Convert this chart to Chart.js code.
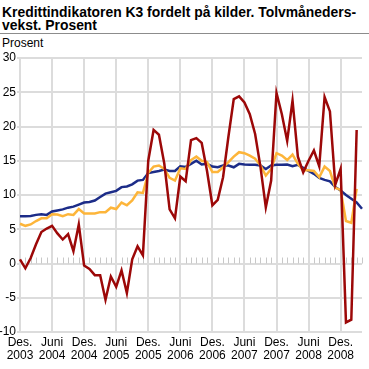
<!DOCTYPE html>
<html>
<head>
<meta charset="utf-8">
<script src="https://cdn.jsdelivr.net/npm/chart.js@4"></script>
<style>
  html, body { margin: 0; padding: 0; background: #fff; }
  #wrap { position: relative; width: 369px; height: 369px; overflow: hidden; font-family: "Liberation Sans", Arial, sans-serif; }
  #title { position: absolute; left: 2px; top: 6px; font-weight: bold; font-size: 13.9px; line-height: 13px; color: #000; white-space: nowrap; }
  #rule { position: absolute; left: 0; top: 33px; width: 369px; height: 1px; background: #8c8c8c; }
  #unit { position: absolute; left: 2px; top: 36px; font-size: 12px; line-height: 14px; color: #000; }
  canvas { position: absolute; left: 0; top: 0; }
</style>
</head>
<body>
<div id="wrap">
  <div id="title">Kredittindikatoren K3 fordelt på kilder. Tolvmåneders-<br>vekst. Prosent</div>
  <div id="rule"></div>
  <div id="unit">Prosent</div>
  <canvas id="c" width="369" height="369"></canvas>
</div>
<script>
const categories = [
  'Des. 2003',
  'Jan. 2004','Feb. 2004','Mars 2004','April 2004','Mai 2004','Juni 2004','Juli 2004','Aug. 2004','Sep. 2004','Okt. 2004','Nov. 2004','Des. 2004',
  'Jan. 2005','Feb. 2005','Mars 2005','April 2005','Mai 2005','Juni 2005','Juli 2005','Aug. 2005','Sep. 2005','Okt. 2005','Nov. 2005','Des. 2005',
  'Jan. 2006','Feb. 2006','Mars 2006','April 2006','Mai 2006','Juni 2006','Juli 2006','Aug. 2006','Sep. 2006','Okt. 2006','Nov. 2006','Des. 2006',
  'Jan. 2007','Feb. 2007','Mars 2007','April 2007','Mai 2007','Juni 2007','Juli 2007','Aug. 2007','Sep. 2007','Okt. 2007','Nov. 2007','Des. 2007',
  'Jan. 2008','Feb. 2008','Mars 2008','April 2008','Mai 2008','Juni 2008','Juli 2008','Aug. 2008','Sep. 2008','Okt. 2008','Nov. 2008','Des. 2008',
  'Jan. 2009','Feb. 2009','Mars 2009','April 2009'
];

const tickLabels = ['Des. 2003','Juni 2004','Des. 2004','Juni 2005','Des. 2005','Juni 2006','Des. 2006','Juni 2007','Des. 2007','Juni 2008','Des. 2008'];

const yTicks = [-10, -5, 0, 5, 10, 15, 20, 25, 30];

// Red series
const seriesRed = [
  0.6,-0.7,0.8,2.8,4.6,5.1,5.5,4.4,3.5,4.3,1.8,5.7,
  -0.3,-0.8,-1.7,-1.7,-5.3,-1.9,-3.4,-1.0,-4.3,0.6,2.5,1.2,
  15.0,19.5,18.8,14.6,7.9,6.6,12.7,12.0,18.0,18.3,17.6,13.5,
  8.5,9.3,12.6,18.5,24.0,24.4,23.5,21.8,18.9,14.1,8.2,12.1,
  24.9,21.8,17.9,23.8,15.6,13.3,15.0,16.5,14.2,24.3,22.2,11.5,
  13.8,-8.6,-8.2,19.5
];

// Yellow series
const seriesYellow = [
  5.8,5.5,5.7,6.2,6.6,6.6,7.2,7.15,6.9,7.2,7.1,7.95,
  7.3,7.3,7.3,7.5,7.5,8.15,7.95,8.9,8.5,9.2,10.4,10.3,
  13.25,14.15,14.3,13.8,12.5,12.1,13.9,13.8,15.1,15.6,15.0,14.8,
  13.35,13.35,14.05,14.8,15.6,16.25,16.1,15.75,15.3,14.3,12.85,13.8,
  16.1,15.75,15.1,15.9,14.55,13.6,13.6,13.5,12.6,14.15,13.5,11.05,
  10.75,6.2,5.95,10.9
];

// Blue series
const seriesBlue = [
  6.9,6.9,6.95,7.1,7.2,7.1,7.6,7.75,7.9,8.15,8.3,8.6,
  8.9,8.97,9.2,9.7,10.2,10.4,10.6,11.15,11.25,11.55,12.1,12.2,
  13.2,13.35,13.5,13.7,13.5,13.5,14.2,14.1,14.55,15.0,14.45,14.55,
  14.15,14.05,14.3,14.3,14.05,14.55,14.45,14.4,14.4,14.3,13.8,14.3,
  14.4,14.4,14.45,14.2,14.4,13.95,13.5,13.1,12.5,12.2,12.0,11.15,
  10.65,10.0,9.45,8.9,8.0
];

const GRID = '#dcdcdc';
Chart.defaults.font.family = '"Liberation Sans", Arial, sans-serif';
Chart.defaults.font.size = 12;
Chart.defaults.color = '#000';

const minorTicks = {
  id: 'minorTicks',
  beforeDatasetsDraw(chart) {
    const x = chart.scales.x, y = chart.scales.y;
    const y0 = y.getPixelForValue(0);
    const ctx = chart.ctx;
    ctx.save();
    ctx.strokeStyle = '#c8c8c8';
    ctx.lineWidth = 1;
    ctx.beginPath();
    for (let i = 0; i < categories.length; i++) {
      if (tickLabels.includes(categories[i])) continue;
      const px = Math.round(x.getPixelForValue(i)) + 0.5;
      ctx.moveTo(px, y0 - 6);
      ctx.lineTo(px, y0);
    }
    ctx.stroke();
    ctx.restore();
  }
};

new Chart(document.getElementById('c'), {
  type: 'line',
  data: {
    labels: categories,
    datasets: [
      { label: 'Rød', data: seriesRed, borderColor: '#9c0808', borderWidth: 2.5, pointRadius: 0, tension: 0, fill: false },
      { label: 'Gul', data: seriesYellow, borderColor: '#fdb53a', borderWidth: 2.5, pointRadius: 0, tension: 0, fill: false },
      { label: 'Blå', data: seriesBlue, borderColor: '#1c2c88', borderWidth: 2.5, pointRadius: 0, tension: 0, fill: false }
    ]
  },
  options: {
    responsive: false,
    animation: false,
    devicePixelRatio: 1,
    layout: { padding: { top: 58, right: 7, left: 0, bottom: 0 } },
    plugins: { legend: { display: false }, tooltip: { enabled: false }, title: { display: false } },
    scales: {
      x: {
        type: 'category',
        offset: false,
        afterFit(s) { s.height = 37; },
        border: { display: false },
        grid: {
          drawTicks: false,
          lineWidth: 2,
          color: (ctx) => (ctx.index !== undefined && tickLabels.includes(categories[ctx.index])) ? GRID : 'rgba(0,0,0,0)'
        },
        ticks: {
          autoSkip: false,
          maxRotation: 0,
          minRotation: 0,
          padding: 4,
          font: { size: 12, lineHeight: 1.1 },
          callback: function(value, index) {
            const lab = categories[index];
            return tickLabels.includes(lab) ? lab.split(' ') : '';
          }
        }
      },
      y: {
        min: -10,
        max: 30,
        afterFit(s) { s.width = 20; },
        afterBuildTicks(s) { s.ticks = yTicks.map(v => ({ value: v })); },
        border: { display: true, color: GRID, width: 2 },
        grid: { color: GRID, lineWidth: 2, drawTicks: true, tickLength: 3, tickColor: GRID },
        ticks: { padding: 1, font: { size: 12 }, color: '#000' }
      }
    }
  },
  plugins: [minorTicks]
});
</script>
</body>
</html>
